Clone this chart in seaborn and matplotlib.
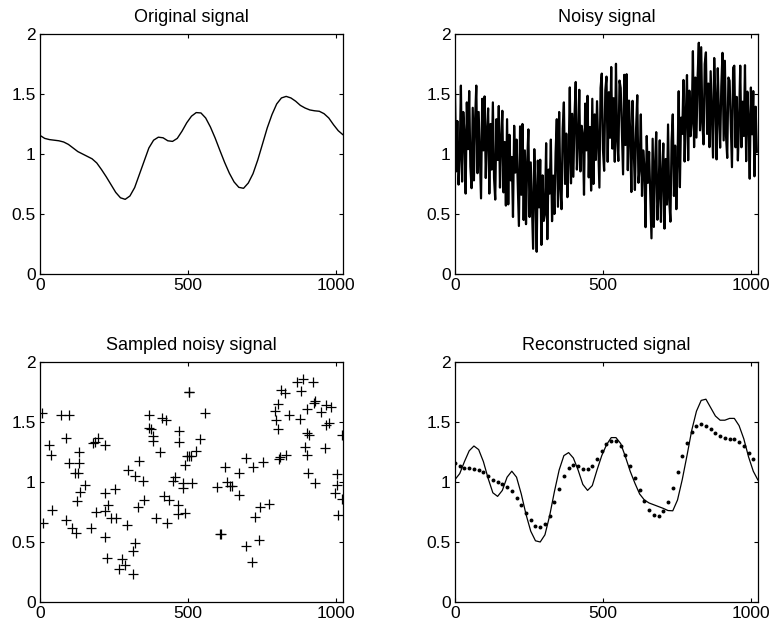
import numpy as np
import pandas as pd
import seaborn as sns
import matplotlib
matplotlib.use("Agg")
import matplotlib.pyplot as plt

# original signal, read every 16 samples (also the dots in the last panel)
orig_x = list(range(0, 1025, 16))
orig_y = [1.155, 1.13, 1.12, 1.115, 1.11, 1.10, 1.08, 1.05, 1.02, 1.00,
          0.98, 0.96, 0.925, 0.87, 0.81, 0.745, 0.68, 0.635, 0.622, 0.65,
          0.72, 0.83, 0.94, 1.05, 1.115, 1.14, 1.135, 1.11, 1.105, 1.13,
          1.19, 1.26, 1.315, 1.345, 1.342, 1.30, 1.225, 1.133, 1.03, 0.93,
          0.84, 0.767, 0.722, 0.714, 0.758, 0.836, 0.95, 1.083, 1.217, 1.328,
          1.417, 1.467, 1.48, 1.467, 1.44, 1.405, 1.383, 1.367, 1.36, 1.356,
          1.336, 1.30, 1.244, 1.194, 1.16]

# noisy signal, every 4th sample (estimated)
noisy_x = list(range(0, 1024, 4))
noisy_y = [1.535, 0.855, 1.275, 0.745, 0.98, 1.57, 0.77, 1.35,
           1.17, 0.67, 1.43, 1.04, 1.525, 0.895, 0.715, 1.385,
           0.78, 1.29, 1.57, 0.84, 1.35, 0.98, 0.63, 1.46,
           1.03, 1.48, 0.80, 1.18, 1.38, 0.67, 1.25, 0.87,
           1.43, 0.80, 0.62, 1.29, 0.95, 1.40, 0.72, 1.10,
           1.36, 0.68, 1.10, 0.57, 1.29, 0.58, 1.16, 0.78,
           0.975, 0.475, 1.235, 0.845, 1.12, 0.75, 0.40, 1.23,
           0.66, 1.25, 0.45, 1.03, 0.415, 0.925, 1.205, 0.475,
           0.93, 0.56, 0.21, 1.04, 0.685, 0.185, 0.945, 0.555,
           0.952, 0.242, 0.822, 0.442, 0.50, 1.09, 0.29, 0.87,
           0.67, 1.12, 0.44, 0.82, 0.50, 1.01, 1.29, 0.56,
           1.35, 0.72, 0.54, 1.21, 1.43, 0.75, 1.17, 0.64,
           0.965, 1.555, 0.755, 1.335, 0.81, 1.32, 1.60, 0.87,
           1.085, 1.535, 0.855, 1.235, 1.16, 0.66, 1.42, 1.03,
           1.485, 0.805, 1.225, 0.695, 1.46, 0.75, 1.33, 0.95,
           1.44, 1.07, 0.72, 1.55, 1.67, 1.04, 0.86, 1.53,
           1.645, 0.935, 1.515, 1.135, 1.725, 1.045, 1.465, 0.935,
           1.752, 1.122, 0.942, 1.612, 1.55, 1.18, 0.83, 1.66,
           1.075, 1.665, 0.865, 1.445, 1.183, 0.683, 1.443, 1.053,
           0.70, 1.21, 1.49, 0.76, 0.88, 1.33, 0.65, 1.03,
           0.89, 0.39, 1.15, 0.76, 1.017, 0.647, 0.297, 1.127,
           0.392, 0.902, 1.182, 0.452, 0.664, 1.114, 0.434, 0.814,
           1.088, 0.378, 0.958, 0.578, 1.246, 0.616, 0.436, 1.106,
           1.33, 0.65, 1.07, 0.54, 0.933, 1.523, 0.723, 1.303,
           1.167, 1.617, 0.937, 1.317, 1.658, 0.948, 1.528, 1.148,
           1.267, 1.857, 1.057, 1.637, 1.137, 1.647, 1.927, 1.197,
           1.89, 1.26, 1.08, 1.75, 1.847, 1.167, 1.587, 1.057,
           1.69, 1.32, 0.97, 1.80, 1.455, 0.955, 1.715, 1.325,
           1.053, 1.563, 1.843, 1.113, 1.777, 1.147, 0.967, 1.637,
           1.61, 1.24, 0.89, 1.72, 1.736, 1.056, 1.476, 0.946,
           1.286, 1.736, 1.056, 1.436, 1.15, 1.74, 0.94, 1.52,
           1.294, 0.794, 1.554, 1.164, 1.524, 0.814, 1.394, 1.014]

# sampled noisy signal
samp_x = [7, 11, 32, 38, 41, 70, 97, 88, 88, 97, 108, 122, 117, 131, 133, 128,
          135, 124, 151, 173, 180, 185, 196, 219, 189, 221, 230, 221, 252, 241,
          257, 219, 225, 293, 268, 277, 288, 313, 313, 322, 297, 320, 333, 349,
          331, 351, 369, 369, 374, 383, 383, 406, 412, 426, 392, 428, 419, 435,
          466, 489, 466, 455, 448, 482, 482, 469, 471, 489, 496, 505, 502, 505,
          558, 541, 527, 511, 514, 626, 671, 597, 633, 642, 649, 671, 696, 721,
          755, 608, 613, 744, 775, 728, 696, 741, 716, 807, 811, 831, 804, 797,
          795, 804, 813, 829, 843, 867, 890, 883, 922, 878, 903, 926, 931, 951,
          966, 984, 968, 978, 901, 908, 894, 901, 964, 905, 930, 1003, 1003, 998,
          1021, 1007, 1021]
samp_y = [1.572, 0.661, 1.306, 1.222, 0.767, 1.561, 1.556, 1.369, 0.683, 1.156,
          0.617, 0.572, 1.072, 1.253, 1.156, 1.078, 0.917, 0.842, 0.978, 0.617,
          1.322, 1.333, 1.369, 1.306, 0.75, 0.906, 0.811, 0.758, 0.939, 0.697,
          0.697, 0.539, 0.364, 0.644, 0.272, 0.356, 0.311, 0.231, 0.425, 0.489,
          1.097, 1.05, 1.175, 1.008, 0.792, 0.85, 1.556, 1.453, 1.444, 1.383,
          1.339, 1.253, 1.533, 1.517, 0.703, 0.661, 0.883, 0.85, 0.733, 0.739,
          0.806, 1.039, 1.008, 0.994, 0.953, 1.333, 1.425, 1.139, 1.217, 1.217,
          1.75, 1.75, 1.572, 1.356, 1.258, 1.217, 0.994, 1.125, 1.072, 0.961,
          1.0, 0.967, 0.967, 0.894, 1.2, 1.122, 1.167, 0.569, 0.569, 0.794,
          0.819, 0.711, 0.467, 0.517, 0.333, 1.194, 1.211, 1.222, 1.444, 1.517,
          1.592, 1.647, 1.767, 1.744, 1.561, 1.833, 1.861, 1.761, 1.833, 1.522,
          1.606, 1.656, 1.678, 1.583, 1.639, 1.628, 1.472, 1.494, 1.411, 1.394,
          1.294, 1.228, 1.283, 1.078, 0.994, 1.064, 0.972, 0.911, 0.856, 0.728,
          1.394]

# reconstructed signal, every 16 samples
rec_x = list(range(0, 1025, 16))
rec_y = [1.02, 1.07, 1.17, 1.26, 1.30, 1.27, 1.17, 1.03, 0.91, 0.88,
         0.93, 1.04, 1.09, 1.04, 0.90, 0.73, 0.59, 0.51, 0.50, 0.56,
         0.72, 0.92, 1.10, 1.22, 1.245, 1.20, 1.10, 0.98, 0.93, 0.97,
         1.10, 1.22, 1.31, 1.37, 1.37, 1.32, 1.21, 1.09, 0.99, 0.90,
         0.85, 0.825, 0.81, 0.795, 0.78, 0.762, 0.76, 0.85, 1.02, 1.22,
         1.43, 1.59, 1.68, 1.69, 1.62, 1.55, 1.515, 1.515, 1.53, 1.53,
         1.47, 1.36, 1.21, 1.09, 1.015]

sns.set_style("ticks")
plt.rcParams["font.family"] = ["Liberation Sans", "DejaVu Sans"]
plt.rcParams["text.color"] = "black"
plt.rcParams["xtick.color"] = "black"
plt.rcParams["ytick.color"] = "black"

fig = plt.figure(figsize=(7.73, 6.32), dpi=100)
w, h = 0.392, 0.3797
ax1 = fig.add_axes([0.0517, 0.5665, w, h])
ax2 = fig.add_axes([0.5886, 0.5665, w, h])
ax3 = fig.add_axes([0.0517, 0.0475, w, h])
ax4 = fig.add_axes([0.5886, 0.0475, w, h])

sns.lineplot(x=orig_x, y=orig_y, ax=ax1, color="black", lw=1, sort=False, estimator=None)
sns.lineplot(x=noisy_x, y=noisy_y, ax=ax2, color="black", lw=1.6, sort=False, estimator=None)
sns.scatterplot(x=samp_x, y=samp_y, ax=ax3, marker="+", s=50, color="black", linewidth=0.9)
sns.lineplot(x=rec_x, y=rec_y, ax=ax4, color="black", lw=0.9, sort=False, estimator=None)
sns.scatterplot(x=orig_x[:-1], y=orig_y[:-1], ax=ax4, marker="o", s=8, color="black", linewidth=0)

titles = ["Original signal", "Noisy signal", "Sampled noisy signal", "Reconstructed signal"]
for ax, t in zip([ax1, ax2, ax3, ax4], titles):
    ax.set_xlim(0, 1024)
    ax.set_ylim(0, 2)
    ax.set_xticks([0, 500, 1000])
    ax.set_yticks([0, 0.5, 1, 1.5, 2])
    ax.set_yticklabels(["0", "0.5", "1", "1.5", "2"])
    ax.tick_params(direction="in", length=3, width=0.8, top=True, right=True,
                   labelsize=12.5, pad=3, colors="black")
    for s in ax.spines.values():
        s.set_visible(True)
        s.set_linewidth(0.9)
        s.set_color("black")
    ax.set_title(t, fontsize=13, pad=9, color="black")
    ax.set_xlabel("")
    ax.set_ylabel("")

fig.savefig("out.png", dpi=100)
